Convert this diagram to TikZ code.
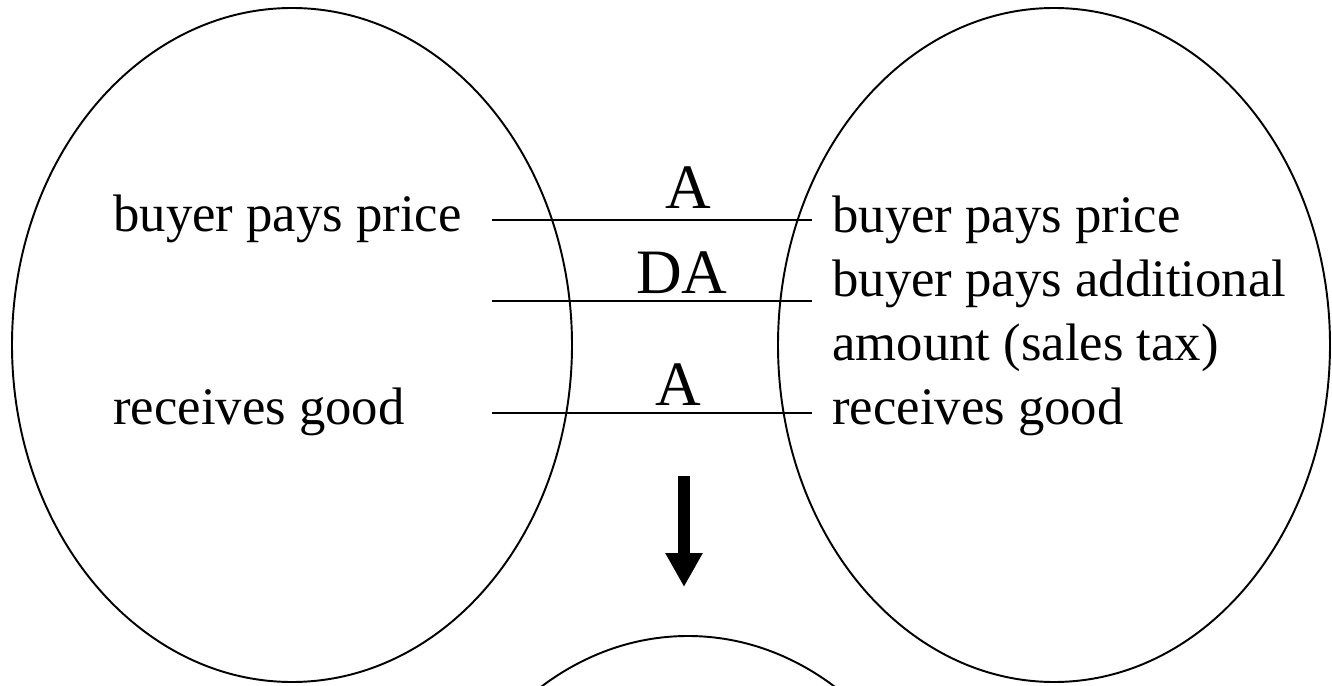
\documentclass[tikz,border=0pt]{standalone}
\usepackage{fontspec}
\setmainfont{Liberation Serif}
\usepackage{tikz}
\usetikzlibrary{positioning,shapes.geometric,arrows.meta}

\begin{document}
\begin{tikzpicture}[
    blob/.style = {
      draw=black,
      ellipse,
      line width=1.1pt,
      inner sep=0pt,
      minimum height=13.48cm
    },
    item/.style = {
      anchor=base west,
      inner sep=0pt,
      font=\fontsize{30}{36}\selectfont
    },
    tag/.style = {
      anchor=base,
      inner sep=0pt,
      font=\fontsize{36}{42}\selectfont
    },
    link/.style = {draw=black, line width=1.1pt},
    downarrow/.style = {-{Triangle[width=0.70cm,length=0.68cm]}, line width=0.24cm, draw=black}
  ]
\useasboundingbox (0,0) rectangle (26.64,13.70);
\clip (0,0) rectangle (26.64,13.70);

\node[blob, minimum width=11.20cm] (before) at (5.84, 6.80) {};
\node[blob, minimum width=11.04cm] (after) at (21.08, 6.80) {};
\node[blob, minimum width=11.12cm] (result) at (13.76, -5.76) {};

\node[item] (lprice) at (2.26, 9.08) {buyer pays price};
\node[item] (lgood) at (2.26, 5.22) {receives good};

\node[item] (rprice) at (16.64, 9.06) {buyer pays price};
\node[item] (rextra) at (16.64, 7.78) {buyer pays additional};
\node[item] (rtax) at (16.64, 6.50) {amount (sales tax)};
\node[item] (rgood) at (16.64, 5.22) {receives good};

\coordinate (p1) at (9.84, 9.30);
\coordinate (q1) at (16.24, 9.30);
\coordinate (p2) at (9.84, 7.68);
\coordinate (q2) at (16.24, 7.68);
\coordinate (p3) at (9.84, 5.44);
\coordinate (q3) at (16.24, 5.44);

\draw[link] (p1) -- (q1);
\draw[link] (p2) -- (q2);
\draw[link] (p3) -- (q3);

\node[tag] (tprice) at (13.76, 9.52) {A};
\node[tag] (textra) at (13.64, 7.84) {DA};
\node[tag] (tgood) at (13.56, 5.60) {A};

\coordinate (top) at (13.68, 4.18);
\coordinate (tip) at (13.68, 1.96);
\draw[downarrow] (top) -- (tip);
\end{tikzpicture}
\end{document}
